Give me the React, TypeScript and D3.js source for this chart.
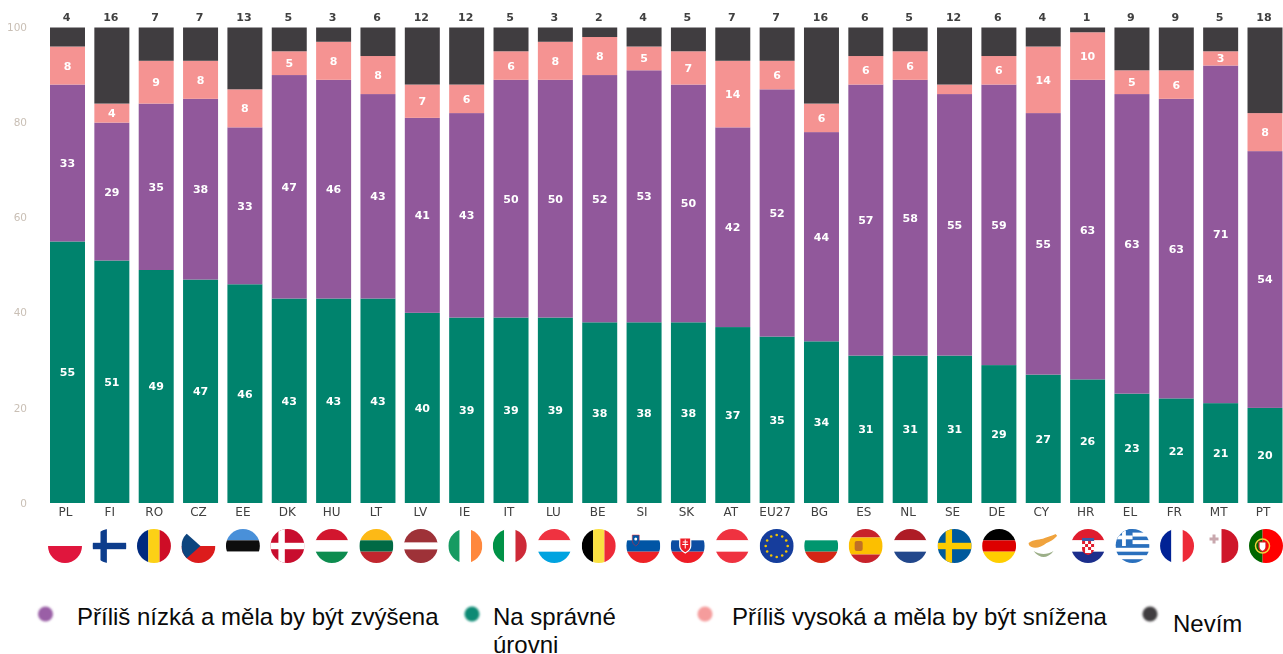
import React from "react";
import * as d3 from "d3";

const categories = ["PL","FI","RO","CZ","EE","DK","HU","LT","LV","IE","IT","LU","BE","SI","SK","AT","EU27","BG","ES","NL","SE","DE","CY","HR","EL","FR","MT","PT"];
const correct = [55,51,49,47,46,43,43,43,40,39,39,39,38,38,38,37,35,34,31,31,31,29,27,26,23,22,21,20];
const tooLow = [33,29,35,38,33,47,46,43,41,43,50,50,52,53,50,42,52,44,57,58,55,59,55,63,63,63,71,54];
const tooHigh = [8,4,9,8,8,5,8,8,7,6,6,8,8,5,7,14,6,6,6,6,2,6,14,10,5,6,3,8];
const dontKnow = [4,16,7,7,13,5,3,6,12,12,5,3,2,4,5,7,7,16,6,5,12,6,4,1,9,9,5,18];
const yTicks = [0,20,40,60,80,100];
const seriesKeys = ["correct","tooLow","tooHigh","dontKnow"];
const seriesColors = ["#02836d","#91589b","#f59392","#403d40"];

const horizontalFlags: Record<string, [string, number][]> = {
  PL: [["#ffffff",1],["#e0143c",1]],
  EE: [["#4a90d9",1],["#111111",1],["#ffffff",1]],
  HU: [["#d2182f",1],["#ffffff",1],["#0a8c50",1]],
  LT: [["#fdb913",1],["#006a44",1],["#c1272d",1]],
  LV: [["#9e3039",2],["#ffffff",1],["#9e3039",2]],
  LU: [["#ef3340",1],["#ffffff",1],["#00a3e0",1]],
  SI: [["#ffffff",1],["#0055a5",1],["#ee2428",1]],
  SK: [["#ffffff",1],["#0b4ea2",1],["#ee1c25",1]],
  AT: [["#ef3340",1],["#ffffff",1],["#ef3340",1]],
  BG: [["#ffffff",1],["#00966e",1],["#d62612",1]],
  ES: [["#c8222c",1],["#fcbf00",2],["#c8222c",1]],
  NL: [["#ae1c28",1],["#ffffff",1],["#21468b",1]],
  DE: [["#000000",1],["#dd0000",1],["#ffce00",1]],
  HR: [["#e01e2d",1],["#ffffff",1],["#1a2f8c",1]],
  EL: [["#2a70bd",1],["#ffffff",1],["#2a70bd",1],["#ffffff",1],["#2a70bd",1],["#ffffff",1],["#2a70bd",1],["#ffffff",1],["#2a70bd",1]],
};
const verticalFlags: Record<string, [string, number][]> = {
  RO: [["#002b7f",1],["#fcd116",1],["#ce1126",1]],
  IE: [["#169b62",1],["#ffffff",1],["#ff883e",1]],
  IT: [["#009246",1],["#ffffff",1],["#ce2b37",1]],
  BE: [["#000000",1],["#fae042",1],["#ed2939",1]],
  FR: [["#002395",1],["#ffffff",1],["#ed2939",1]],
  MT: [["#ffffff",1],["#cf142b",1]],
  PT: [["#006600",2],["#ff0000",3]],
};
const crossFlags: Record<string, [string, string]> = {
  FI: ["#ffffff", "#0f3d8c"],
  DK: ["#c8102e", "#ffffff"],
  SE: ["#005a9c", "#fecb00"],
};
const euStars = d3.range(12);

const legendLabels = [
  ["Příliš nízká a měla by být zvýšena"],
  ["Na správné", "úrovni"],
  ["Příliš vysoká a měla by být snížena"],
  ["Nevím"],
];
const legendColors = ["#9a5fa6","#0f8a74","#f59c9c","#403d40"];
const legendDotX = [45.5,472,705,1150];
const legendTextX = [77,493,732,1173];
const legendBaseline = [625,625,625,632];

const margin = { left: 50, right: 1282.5, top: 27.5, bottom: 503 };
const R = 17;

function bands(spec: [string, number][], horizontal: boolean) {
  const total = d3.sum(spec, (d) => d[1]);
  const s = d3.scaleLinear().domain([0, total]).range([-R, R]);
  let acc = 0;
  return spec.map(([color, w], i) => {
    const a = s(acc);
    const b = s(acc + w);
    acc += w;
    return horizontal
      ? <rect key={i} x={-R} y={a} width={2 * R} height={b - a} fill={color} />
      : <rect key={i} x={a} y={-R} width={b - a} height={2 * R} fill={color} />;
  });
}

function Flag({ code }: { code: string }) {
  const id = `clip-${code}`;
  let body: React.ReactNode = null;
  if (horizontalFlags[code]) body = bands(horizontalFlags[code], true);
  else if (verticalFlags[code]) body = bands(verticalFlags[code], false);
  else if (crossFlags[code]) {
    const [bg, fg] = crossFlags[code];
    body = (
      <>
        <rect x={-R} y={-R} width={2 * R} height={2 * R} fill={code === "FI" ? "#ffffff" : bg} />
        <rect x={-R} y={-3.2} width={2 * R} height={6.4} fill={fg} />
        <rect x={-9} y={-R} width={6.4} height={2 * R} fill={fg} />
      </>
    );
  } else if (code === "CZ") {
    body = (
      <>
        <rect x={-R} y={-R} width={2 * R} height={R} fill="#ffffff" />
        <rect x={-R} y={0} width={2 * R} height={R} fill="#dc1a1f" />
        <path d={`M${-R},${-R}L2,0L${-R},${R}Z`} fill="#11457e" />
      </>
    );
  } else if (code === "EU27") {
    body = (
      <>
        <rect x={-R} y={-R} width={2 * R} height={2 * R} fill="#123c9c" />
        {euStars.map((i) => (
          <circle key={i} cx={11 * Math.cos((i * Math.PI) / 6)} cy={11 * Math.sin((i * Math.PI) / 6)} r={1.3} fill="#f5c400" />
        ))}
      </>
    );
  } else if (code === "CY") {
    body = (
      <>
        <rect x={-R} y={-R} width={2 * R} height={2 * R} fill="#ffffff" />
        <path d="M-15,-3 C-10,-7 -3,-6 1,-8 C6,-10 11,-11 16,-14 C13,-8 8,-5 3,-3 C-2,1 -8,3 -12,1 C-14,0 -15,-1 -15,-3 Z" fill="#f0a33c" />
        <path d="M-10,5 C-7,9 -3,11 0,11 C3,11 7,9 10,5 C7,7 3,8 0,8 C-3,8 -7,7 -10,5 Z" fill="#9caf88" />
      </>
    );
  }
  return (
    <g>
      <clipPath id={id}><circle r={R} /></clipPath>
      <g clipPath={`url(#${id})`}>
        {body}
        {code === "SI" && (
          <>
            <path d="M-11,-11 h7 v6 q0,3 -3.5,5 q-3.500,-2 -3.500,-5 Z" fill="#0055a5" stroke="#ee2428" strokeWidth={0.5} />
            <circle cx={-7.500} cy={-7} r={1.500} fill="#ffffff" />
          </>
        )}
        {code === "SK" && (
          <>
            <path d="M-8,-8 h11 v8 q0,4 -5.500,7 q-5.500,-3 -5.500,-7 Z" fill="#ee1c25" stroke="#ffffff" strokeWidth={1.2} />
            <path d="M-2.500,-6.500 v9 M-5,-4 h5 M-5.500,-1.500 h6" stroke="#ffffff" strokeWidth={1} />
          </>
        )}
        {code === "ES" && <rect x={-11} y={-5} width={8} height={10} rx={2} fill="#b5622d" opacity={0.85} />}
        {code === "HR" && (
          <>
            <rect x={-6} y={-8} width={12} height={3} fill="#3b5aa8" />
            <path d="M-6,-5 h12 v8 q0,4 -6,6 q-6,-2 -6,-6 Z" fill="#e01e2d" />
            <path d="M-3,-5 h3 v3 h-3 Z M3,-5 h3 v3 h-3 Z M-6,-2 h3 v3 h-3 Z M0,-2 h3 v3 h-3 Z M-3,1 h3 v3 h-3 Z M3,1 h3 v3 h-3 Z M-3,7 h6 v-3 h-6 Z" fill="#ffffff" />
          </>
        )}
        {code === "EL" && (
          <>
            <rect x={-R} y={-R} width={17} height={17} fill="#2a70bd" />
            <rect x={-R} y={-10.500} width={17} height={3.800} fill="#ffffff" />
            <rect x={-10.500} y={-R} width={3.800} height={17} fill="#ffffff" />
          </>
        )}
        {code === "MT" && <path d="M-12,-8.500 h3 v-3 h3 v3 h3 v3 h-3 v3 h-3 v-3 h-3 Z" fill="#c9a8ae" />}
        {code === "PT" && (
          <>
            <circle cx={-3.500} cy={0} r={7} fill="none" stroke="#f2d13c" strokeWidth={1.500} />
            <path d="M-7,-4 h7 v5 q0,3 -3.500,4.500 q-3.500,-1.500 -3.500,-4.500 Z" fill="#ffffff" stroke="#d01c1f" strokeWidth={1.200} />
          </>
        )}
      </g>
    </g>
  );
}

export default function App() {
  const x = d3.scaleBand<string>().domain(categories).range([margin.left, margin.right]).paddingInner(0.211).paddingOuter(0);
  const y = d3.scaleLinear().domain([0, 100]).range([margin.bottom, margin.top]);
  const flagX = d3.scalePoint<string>().domain(categories).range([65, 1266]);
  const rows = categories.map((c, i) => ({ c, correct: correct[i], tooLow: tooLow[i], tooHigh: tooHigh[i], dontKnow: dontKnow[i] }));
  const stacked = d3.stack<any>().keys(seriesKeys)(rows);
  const valueFont = "'DejaVu Sans', sans-serif";

  return (
    <svg width={1283} height={654} style={{ position: "absolute", left: 0, top: 0 }}>
      <defs>
        <filter id="soft" x="-5%" y="-5%" width="110%" height="110%"><feGaussianBlur stdDeviation={0.6} /></filter>
        <filter id="softer" x="-50%" y="-50%" width="200%" height="200%"><feGaussianBlur stdDeviation={1} /></filter>
      </defs>
      <g filter="url(#soft)">
        {yTicks.map((t) => (
          <text key={t} x={27} y={y(t)} dy="0.35em" textAnchor="end" fontFamily={valueFont} fontSize={10.500} fill="#c9bfb5">{t}</text>
        ))}
        {stacked.map((layer, li) => (
          <g key={layer.key} fill={seriesColors[li]}>
            {layer.map((d: any) => (
              <rect key={d.data.c} x={x(d.data.c)} y={y(d[1])} width={x.bandwidth()} height={y(d[0]) - y(d[1])} />
            ))}
          </g>
        ))}
        {stacked.slice(0, 3).map((layer) => (
          <g key={layer.key}>
            {layer.map((d: any) => {
              const v = d[1] - d[0];
              if (v < 3) return null;
              return (
                <text key={d.data.c} x={x(d.data.c)! + x.bandwidth() / 2} y={y((d[0] + d[1]) / 2)} dy="0.36em" textAnchor="middle"
                  fontFamily={valueFont} fontWeight={700} fontSize={11} fill="#ffffff">{v}</text>
              );
            })}
          </g>
        ))}
        {categories.map((c, i) => (
          <text key={c} x={x(c)! + x.bandwidth() / 2 - 1} y={21} textAnchor="middle" fontFamily={valueFont} fontWeight={700} fontSize={11} fill="#404040">{dontKnow[i]}</text>
        ))}
        {categories.map((c) => (
          <text key={c} x={x(c)! + x.bandwidth() / 2 - 2} y={516} textAnchor="middle" fontFamily={valueFont} fontSize={12} fill="#404040">{c}</text>
        ))}
        {categories.map((c) => (
          <g key={c} transform={`translate(${flagX(c)},546)`}><Flag code={c} /></g>
        ))}
      </g>
      {legendLabels.map((lines, i) => (
        <g key={i}>
          <circle cx={legendDotX[i]} cy={614} r={7.500} fill={legendColors[i]} filter="url(#softer)" />
          {lines.map((line, j) => (
            <text key={j} x={legendTextX[i]} y={legendBaseline[i] + j * 27.5} fontFamily="'Liberation Sans', Arial, sans-serif" fontSize={24} fill="#0a0a0a">{line}</text>
          ))}
        </g>
      ))}
    </svg>
  );
}
